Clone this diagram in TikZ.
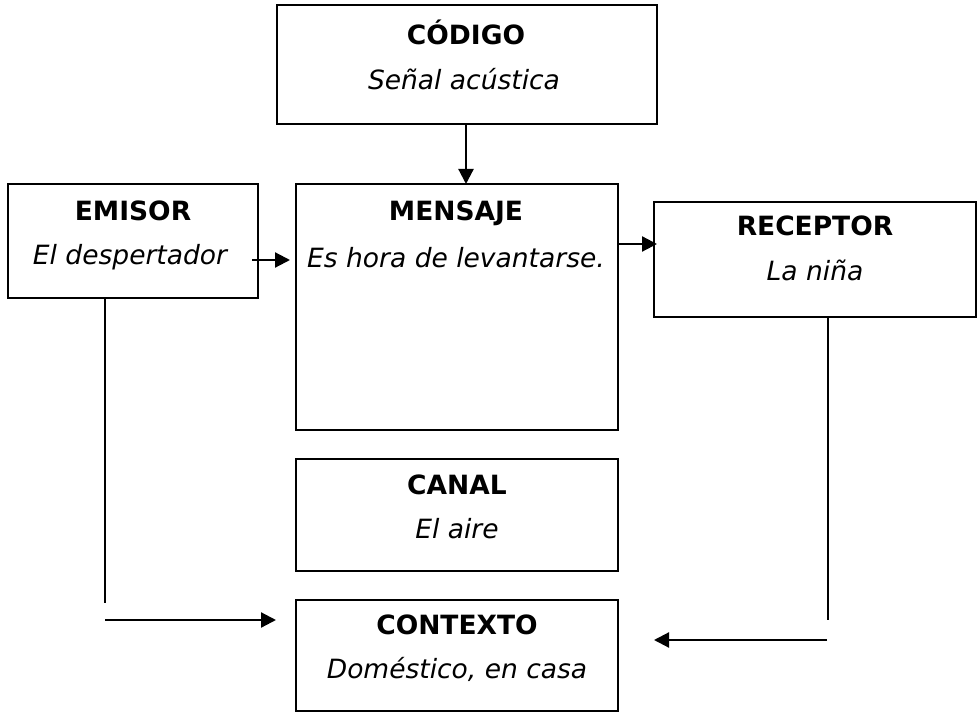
\documentclass[tikz,border=0pt]{standalone}
\usepackage{fontspec}
\setmainfont{DejaVu Sans}
\usetikzlibrary{arrows.meta}
\begin{document}
\begin{tikzpicture}[x=1pt,y=-1pt,
  box/.style={draw,line width=2.4pt,inner sep=0pt},
  ttl/.style={font=\fontsize{26.5}{30}\selectfont\bfseries,anchor=base},
  sub/.style={font=\fontsize{26.5}{30}\selectfont\itshape,anchor=base},
  conn/.style={line width=2.2pt},
  arr/.style={conn,-{Triangle[length=15pt,width=15pt]}}]
\useasboundingbox (0,0) rectangle (979,719);
% boxes
\node[box,minimum width=380pt,minimum height=119pt] (cod) at (467,64.5) {};
\node[box,minimum width=250pt,minimum height=114pt] (emi) at (133,241) {};
\node[box,minimum width=322pt,minimum height=246pt] (men) at (457,307) {};
\node[box,minimum width=322pt,minimum height=115pt] (rec) at (815,259.5) {};
\node[box,minimum width=322pt,minimum height=112pt] (can) at (457,515) {};
\node[box,minimum width=322pt,minimum height=111pt] (con) at (457,655.5) {};
% texts
\node[ttl] (codt) at (466,45) {CÓDIGO};
\node[sub] (cods) at (464,90) {Señal acústica};
\node[ttl] (emit) at (133,221) {EMISOR};
\node[sub] (emis) at (130,265) {El despertador};
\node[ttl] (ment) at (456,221) {MENSAJE};
\node[sub] (mens) at (456,267) {Es hora de levantarse.};
\node[ttl] (rect) at (815,236) {RECEPTOR};
\node[sub] (recs) at (815,280) {La niña};
\node[ttl] (cant) at (457,494) {CANAL};
\node[sub] (cans) at (457,538) {El aire};
\node[ttl] (cont) at (457,634) {CONTEXTO};
\node[sub] (cons) at (457,678) {Doméstico, en casa};
% connectors
\coordinate (c1) at (466,184);
\draw[arr] (cod.south -| c1) -- (c1);
\coordinate (e1) at (252,260);
\coordinate (e2) at (290,260);
\draw[arr] (e1) -- (e2);
\coordinate (m1) at (618,244);
\coordinate (m2) at (657,244);
\draw[arr] (m1) -- (m2);
\coordinate (ev) at (105,603);
\draw[conn] (emi.south -| ev) -- (ev);
\coordinate (eh1) at (105,620);
\coordinate (eh2) at (276,620);
\draw[arr] (eh1) -- (eh2);
\coordinate (rv) at (828,620);
\draw[conn] (rec.south -| rv) -- (rv);
\coordinate (rh1) at (827,640);
\coordinate (rh2) at (654,640);
\draw[arr] (rh1) -- (rh2);
\end{tikzpicture}
\end{document}
